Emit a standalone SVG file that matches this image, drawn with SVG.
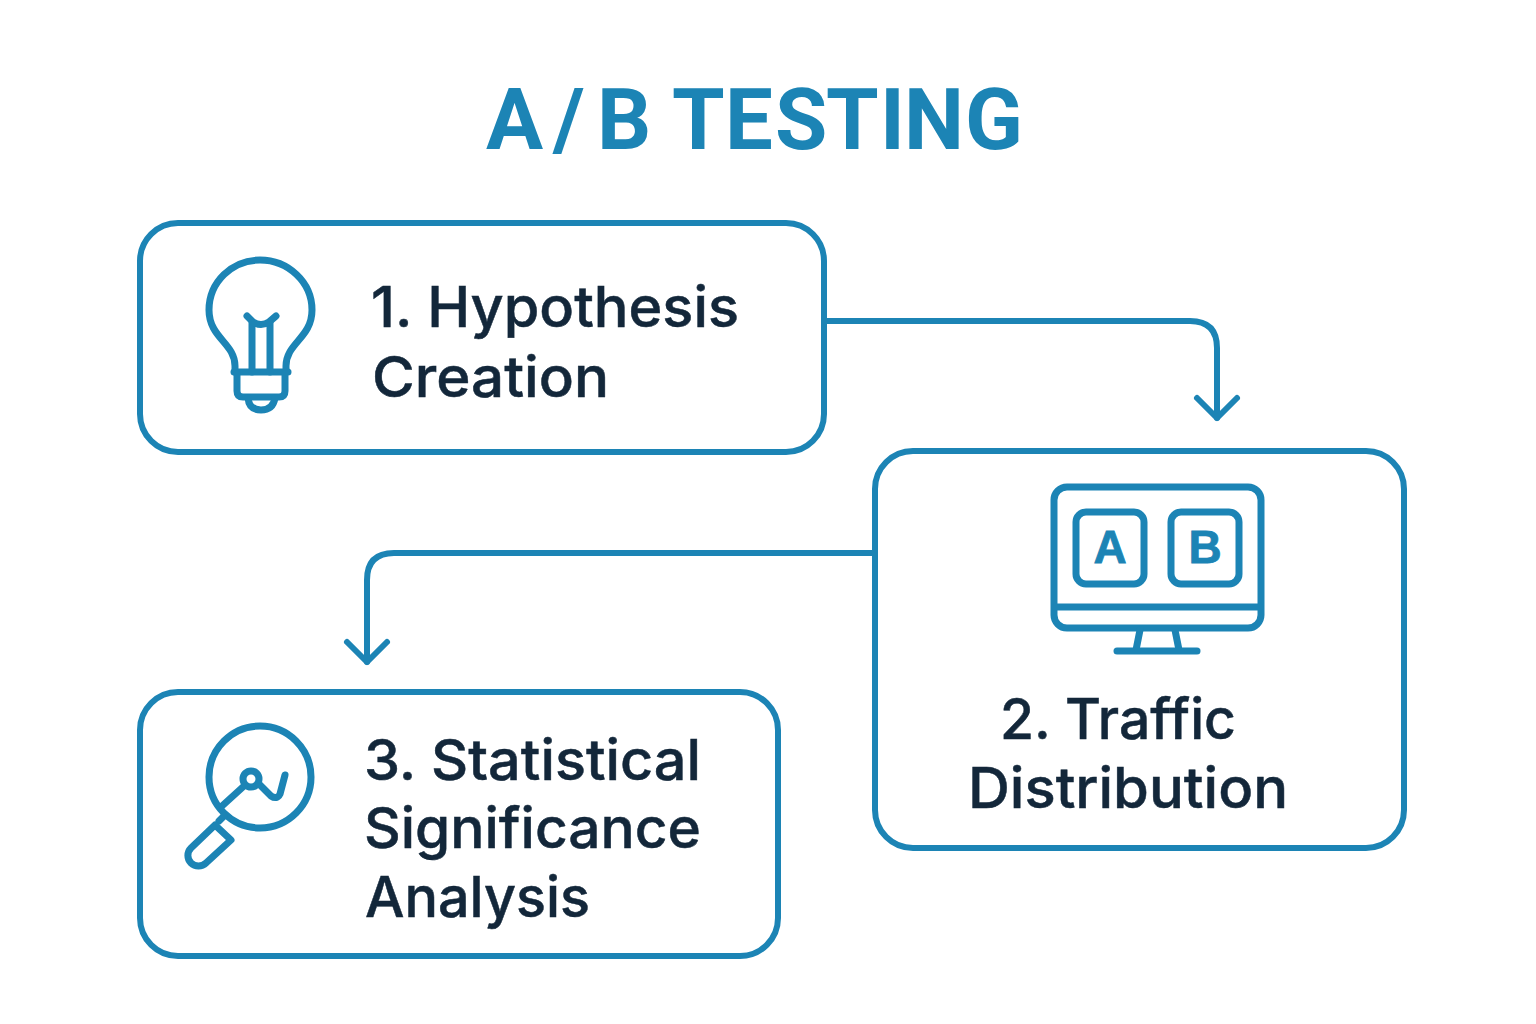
<svg xmlns="http://www.w3.org/2000/svg" width="1536" height="1024" viewBox="0 0 1536 1024">
<style>
.box{fill:#fff;stroke:#1c84b5;stroke-width:6}
.ic{fill:none;stroke:#1c84b5;stroke-width:7;stroke-linecap:round;stroke-linejoin:round}
.cn{fill:none;stroke:#1c84b5;stroke-width:6;stroke-linecap:round;stroke-linejoin:round}
.t{font-family:Inter,"Liberation Sans",sans-serif;font-size:56px;font-weight:500;fill:#13273a;stroke:#13273a;stroke-width:.5}
.title{font-family:Roboto,"Liberation Sans",sans-serif;font-size:85px;font-weight:700;fill:#1c84b5}
.l{font-family:"Liberation Sans",Arial,sans-serif;font-size:46px;font-weight:700;fill:#1c84b5;text-anchor:middle;stroke:#1c84b5;stroke-width:.8}
</style>
<rect width="1536" height="1024" fill="#fff"/>
<text id="title" class="title" y="149" x="486 553 597 655 672 725 775 826 880 904 965">A/B TESTING</text>
<g id="connectors">
<path class="cn" d="M825 321H1190Q1217 321 1217 348V418"/>
<path class="cn" d="M1197 398L1217 418L1237 398"/>
<path class="cn" d="M874 553H394Q367 553 367 580V662"/>
<path class="cn" d="M347 642L367 662L387 642"/>
</g>
<g id="node1">
<rect class="box" x="140" y="223" width="684" height="229" rx="38"/>
<g class="ic">
<path d="M235 372V366C235 343 209 338 209 310C209 282 232 260 260 260C288 260 312 282 312 310C312 338 286 343 286 366V372"/>
<path d="M234 372H288"/>
<path d="M237 374V391Q237 397 243 397H279Q285 397 285 391V374"/>
<path d="M248 398Q249 410 261 410Q273 410 275 398"/>
<path d="M252 372V323M270 372V323"/>
<path d="M247 316L253 322Q261 327 269 322L276 316"/>
</g>
<text class="t" x="371" y="327" textLength="368" lengthAdjust="spacingAndGlyphs">1. Hypothesis</text>
<text class="t" x="372" y="397" textLength="237" lengthAdjust="spacingAndGlyphs">Creation</text>
</g>
<g id="node2">
<rect class="box" x="875" y="451" width="529" height="397" rx="38"/>
<g class="ic">
<rect x="1054" y="487" width="207" height="141" rx="13"/>
<rect x="1076" y="512" width="68" height="72" rx="10"/>
<rect x="1171" y="512" width="68" height="72" rx="10"/>
<path d="M1055 607H1260"/>
<path d="M1140 630L1136 650M1175 630L1179 650"/>
<path d="M1117 651H1197"/>
</g>
<text class="l" x="1110" y="563">A</text>
<text class="l" x="1205" y="563">B</text>
<text class="t" x="1000" y="739" textLength="236" lengthAdjust="spacingAndGlyphs">2. Traffic</text>
<text class="t" x="968" y="808" textLength="320" lengthAdjust="spacingAndGlyphs">Distribution</text>
</g>
<g id="node3">
<rect class="box" x="140" y="692" width="638" height="264" rx="38"/>
<g class="ic">
<circle cx="260" cy="777" r="51"/>
<path d="M222 806L244 786"/>
<circle cx="251" cy="779" r="8"/>
<path d="M259 784L271 796Q277 800 280 794L285 775"/>
<path d="M219 821L224 816"/>
<path d="M215 825L191 848A10.5 10.5 0 0 0 206 863L231 840Z"/>
</g>
<text class="t" x="364" y="780" textLength="337" lengthAdjust="spacingAndGlyphs">3. Statistical</text>
<text class="t" x="364" y="848" textLength="337" lengthAdjust="spacingAndGlyphs">Significance</text>
<text class="t" x="365" y="917" textLength="225" lengthAdjust="spacingAndGlyphs">Analysis</text>
</g>
</svg>
